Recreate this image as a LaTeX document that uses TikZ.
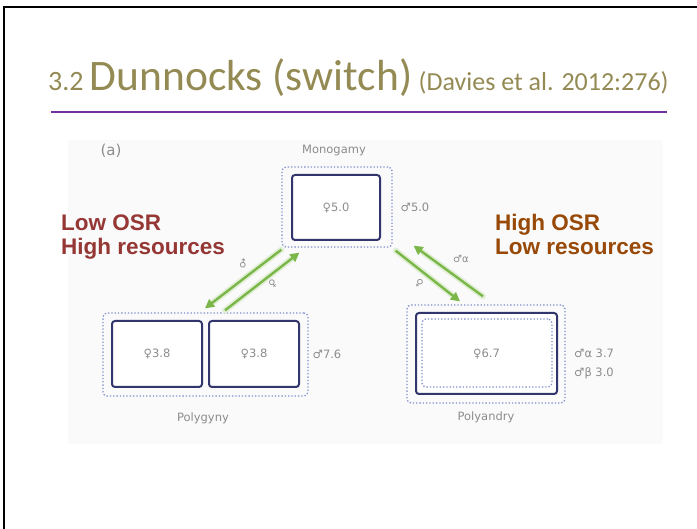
\documentclass[tikz,border=0pt]{standalone}
\usepackage{fontspec}
\setmainfont{Carlito}
\newfontfamily\labelfont{Liberation Sans}
\newfontfamily\symfont{DejaVu Sans}
\usetikzlibrary{arrows.meta}

\definecolor{titleolive}{RGB}{148,138,84}
\definecolor{rulepurple}{RGB}{112,48,160}
\definecolor{lowred}{RGB}{149,55,53}
\definecolor{highbrown}{RGB}{152,72,7}
\definecolor{boxnavy}{RGB}{50,54,108}
\definecolor{dotblue}{RGB}{128,142,204}
\definecolor{arrowgreen}{RGB}{122,182,72}
\definecolor{figgray}{RGB}{140,140,140}
\definecolor{panelgray}{RGB}{250,250,250}

\tikzset{
  pair/.style={draw=boxnavy, line width=2pt, rounded corners=3pt, fill=white, inner sep=0pt},
  group/.style={draw=dotblue, line width=1.3pt, dotted, rounded corners=4pt, inner sep=0pt},
  figtext/.style={text=figgray, inner sep=0pt, font=\symfont\fontsize{11.5}{13}\selectfont},
  sextext/.style={figtext, font=\symfont\fontsize{10}{11}\selectfont},
  condition/.style={anchor=base west, inner sep=0pt, font=\labelfont\bfseries\fontsize{22.5}{24}\selectfont},
  switch/.style={-{Triangle[length=9pt,width=9pt]}, draw=arrowgreen, line width=2.4pt,
    preaction={draw=arrowgreen!22, line width=6pt, line cap=round}}
}

\begin{document}
\begin{tikzpicture}[x=1pt, y=-1pt]
  \useasboundingbox (0,0) rectangle (697,529);
  %slide frame
  \draw[line width=2.5pt] (4,529) -- (4,7) -- (697,7);
  %title
  \node[anchor=base west, inner sep=0pt, text=titleolive] (title) at (48,91)
    {\fontsize{28}{30}\selectfont 3.2 {\fontsize{43.5}{46}\selectfont Dunnocks (switch)} {\fontsize{26}{28}\selectfont (Davies et al. 2012:276)}};
  \draw[rulepurple, line width=1.2pt] (51,112) -- (667,112);
  %figure panel
  \fill[panelgray] (68,140) rectangle (663,444);
  \node[figtext, font=\symfont\fontsize{15}{16}\selectfont] (panel) at (111,151) {(a)};

  %monogamy
  \node[group, minimum width=110pt, minimum height=80pt] (monog) at (337,207) {};
  \node[pair, minimum width=88pt, minimum height=65pt] (mono) at (336,207.5) {};
  \node[figtext] (monof) at (mono) {♀5.0};
  \node[figtext] (monom) at (415,207) {♂5.0};
  \node[figtext] (monot) at (334,151) {Monogamy};

  %polygyny
  \node[group, minimum width=205pt, minimum height=83pt] (gynyg) at (205.5,354.5) {};
  \node[pair, minimum width=90pt, minimum height=66pt] (gyny1) at (157,354) {};
  \node[pair, minimum width=90pt, minimum height=66pt] (gyny2) at (254,354) {};
  \node[figtext] (gynyf1) at (gyny1) {♀3.8};
  \node[figtext] (gynyf2) at (gyny2) {♀3.8};
  \node[figtext] (gynym) at (327,354) {♂7.6};
  \node[figtext] (gynyt) at (203,418) {Polygyny};

  %polyandry
  \node[group, minimum width=158pt, minimum height=98pt] (andryg) at (486,354) {};
  \node[pair, minimum width=141pt, minimum height=81pt] (andry) at (486.5,353.5) {};
  \node[group, minimum width=130pt, minimum height=68pt] (andryi) at (487,353) {};
  \node[figtext] (andryf) at (andry) {♀6.7};
  \node[figtext, anchor=west] (andrya) at (574,353) {♂α 3.7};
  \node[figtext, anchor=west] (andryb) at (574,373) {♂β 3.0};
  \node[figtext] (andryt) at (486,417) {Polyandry};

  %arrows
  \draw[switch] ([shift={(0,2)}]monog.south west) -- ([shift={(-0.5,-4)}]gynyg.north);
  \draw[switch] ([shift={(19.5,-2)}]gynyg.north) -- ([shift={(18,5)}]monog.south west);
  \draw[switch] ([shift={(3,3)}]monog.south east) -- ([shift={(-26,-3)}]andryg.north);
  \draw[switch] ([shift={(-3,-8)}]andryg.north) -- ([shift={(21,-2)}]monog.south east);
  \node[sextext, rotate=38] (sw1) at (243,264) {♂};
  \node[sextext, rotate=38] (sw2) at (273,284) {♀};
  \node[sextext, rotate=-38] (sw3) at (419,283) {♀};
  \node[sextext] (sw4) at (461,259) {♂α};

  %conditions
  \node[condition, text=lowred] (lowosr) at (61,231) {Low OSR};
  \node[condition, text=lowred] (highres) at (61,255) {High resources};
  \node[condition, text=highbrown] (highosr) at (495,231) {High OSR};
  \node[condition, text=highbrown] (lowres) at (495,255) {Low resources};
\end{tikzpicture}
\end{document}
